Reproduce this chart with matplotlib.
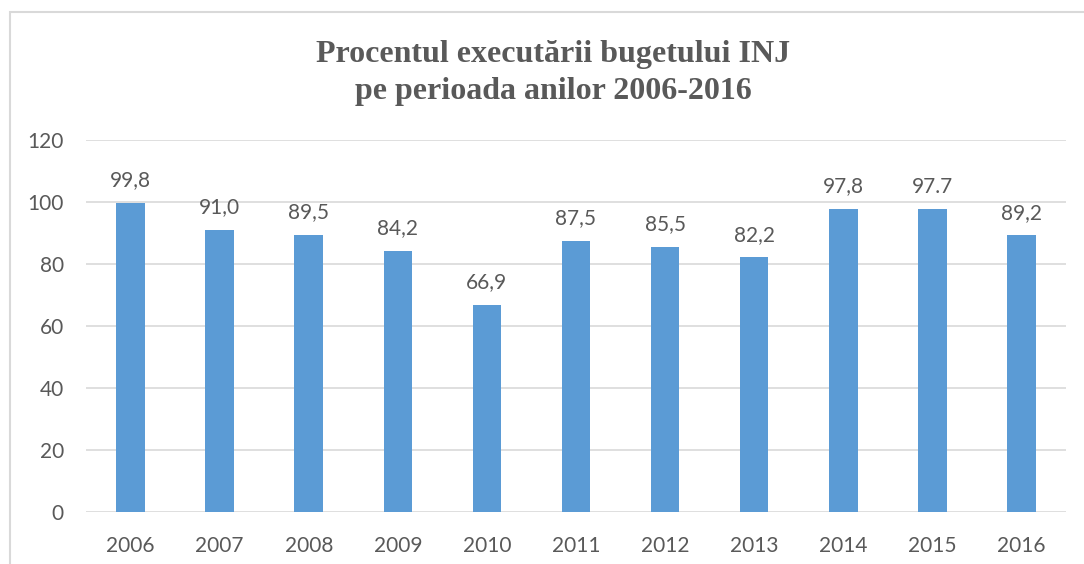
import matplotlib
matplotlib.use("Agg")
import matplotlib.pyplot as plt
from matplotlib.patches import Rectangle

years = ["2006", "2007", "2008", "2009", "2010", "2011", "2012", "2013", "2014", "2015", "2016"]
values = [99.8, 91.0, 89.5, 84.2, 66.9, 87.5, 85.5, 82.2, 97.8, 97.7, 89.2]
labels = ["99,8", "91,0", "89,5", "84,2", "66,9", "87,5", "85,5", "82,2", "97,8", "97.7", "89,2"]
yticks = [0, 20, 40, 60, 80, 100, 120]

W, H = 1084, 564
fig = plt.figure(figsize=(W / 100, H / 100), dpi=100)
fig.patch.set_facecolor("white")

# outer chart frame
fig.patches.append(Rectangle((10 / W, -0.05), 1.1, (H - 12) / H + 0.05, transform=fig.transFigure,
                             fill=False, edgecolor="#D9D9D9", linewidth=1.5))

ax = fig.add_axes([86 / W, (H - 512) / H, (1066 - 86) / W, (512 - 140) / H])
x = list(range(len(years)))
ax.bar(x, values, width=0.32, color="#5B9BD5", zorder=3)
ax.set_xlim(-0.5, len(years) - 0.5)
ax.set_ylim(0, 120)
ax.set_yticks(yticks)
ax.set_xticks(x)
ax.set_xticklabels(years)
ax.yaxis.grid(True, color="#D9D9D9", linewidth=1.2, zorder=0)
for s in ax.spines.values():
    s.set_visible(False)
ax.tick_params(length=0, colors="#595959", labelsize=15)
ax.tick_params(axis="y", pad=16)
ax.tick_params(axis="x", pad=17)
for lab in ax.get_xticklabels() + ax.get_yticklabels():
    lab.set_fontfamily("Lato")

for xi, v, t in zip(x, values, labels):
    ax.annotate(t, (xi, v), xytext=(0, 9), textcoords="offset points", ha="center", va="bottom",
                fontsize=15, color="#595959", family="Lato")

fig.text(553 / W, 1 - 73 / H, "Procentul executării bugetului INJ\npe perioada anilor 2006-2016",
         ha="center", va="center", fontsize=23, fontweight="bold", color="#595959",
         family="Liberation Serif", linespacing=1.4)

fig.savefig("out.png", dpi=100)
